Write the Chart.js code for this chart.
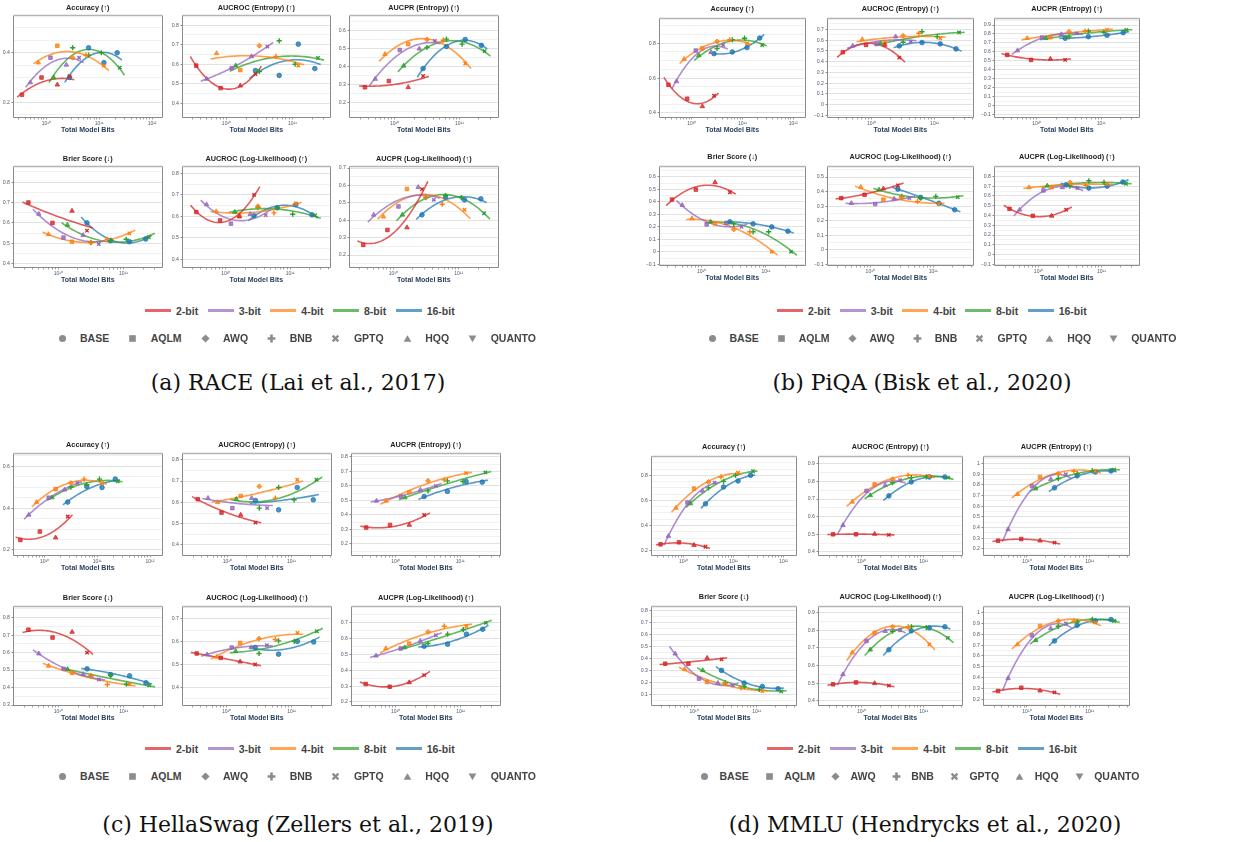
<!DOCTYPE html>
<html>
<head>
<meta charset="utf-8">
<title>Calibration vs. total model bits</title>
<script src="https://cdn.jsdelivr.net/npm/chart.js@4.4.1/dist/chart.umd.min.js"></script>
<style>
html,body{margin:0;padding:0;background:#fff;}
body{width:1246px;height:842px;position:relative;overflow:hidden;font-family:"Liberation Sans",Arial,sans-serif;}
canvas.sub{position:absolute;}
.legrow{position:absolute;display:flex;align-items:center;height:12px;font-weight:bold;font-size:10.5px;color:#444;white-space:nowrap;}
.sw{display:inline-block;width:26px;height:2.5px;}
.legrow svg{display:block;}
.cap{position:absolute;font-family:"DejaVu Serif",serif;white-space:nowrap;color:#111;line-height:1;}
</style>
</head>
<body>
<script>
// ================= DATA =================
const BIT_LABELS = ['2-bit', '3-bit', '4-bit', '8-bit', '16-bit'];
const METHOD_LABELS = ['BASE', 'AQLM', 'AWQ', 'BNB', 'GPTQ', 'HQQ', 'QUANTO'];
const METRIC_TITLES = ['Accuracy (↑)', 'AUCROC (Entropy) (↑)', 'AUCPR (Entropy) (↑)',
                       'Brier Score (↓)', 'AUCROC (Log-Likelihood) (↑)', 'AUCPR (Log-Likelihood) (↑)'];
const X_AXIS_TITLE = 'Total Model Bits';
const CAPTIONS = ['(a) RACE (Lai et al., 2017)', '(b) PiQA (Bisk et al., 2020)',
                  '(c) HellaSwag (Zellers et al., 2019)', '(d) MMLU (Hendrycks et al., 2020)'];

// Total model bits of each quantized model, per bit width
const X_2BIT  = [3.47e9, 8.13e9, 1.62e10, 2.75e10];
const X_3BIT  = [5.01e9, 1.20e10, 2.40e10, 4.17e10];
const X_4BIT  = [7.08e9, 1.62e10, 3.16e10, 5.62e10, 1.23e11];
const X_8BIT  = [1.38e10, 3.16e10, 6.31e10, 1.10e11, 2.45e11];
const X_16BIT = [2.75e10, 6.31e10, 1.23e11, 2.19e11];

// Quantization method of each point
const M_2BIT  = ['AQLM', 'AQLM', 'HQQ', 'GPTQ'];
const M_3BIT  = ['HQQ', 'AQLM', 'HQQ', 'GPTQ'];
const M_4BIT  = ['HQQ', 'AQLM', 'AWQ', 'BNB', 'GPTQ'];
const M_8BIT  = ['HQQ', 'BNB', 'BNB', 'BNB', 'GPTQ'];
const M_16BIT = ['BASE', 'BASE', 'BASE', 'BASE'];

// ---- RACE ---- rows: 2,3,4,8,16-bit
const RACE_ACCURACY = [
  [0.231, 0.300, 0.271, 0.305],
  [0.280, 0.380, 0.351, 0.380],
  [0.360, 0.428, 0.380, 0.390, 0.348],
  [0.300, 0.420, 0.390, 0.400, 0.340],
  [0.300, 0.420, 0.360, 0.400]];
const RACE_AUCROC_ENT = [
  [0.593, 0.478, 0.490, 0.550],
  [0.525, 0.580, 0.640, 0.690],
  [0.656, 0.570, 0.695, 0.640, 0.593],
  [0.593, 0.563, 0.720, 0.600, 0.632],
  [0.568, 0.543, 0.703, 0.578]];
const RACE_AUCPR_ENT = [
  [0.285, 0.320, 0.285, 0.348],
  [0.331, 0.493, 0.500, 0.544],
  [0.470, 0.526, 0.552, 0.548, 0.418],
  [0.405, 0.507, 0.554, 0.526, 0.487],
  [0.390, 0.513, 0.552, 0.519]];
const RACE_BRIER = [
  [0.700, 0.600, 0.659, 0.562],
  [0.644, 0.528, 0.540, 0.497],
  [0.544, 0.508, 0.503, 0.520, 0.549],
  [0.590, 0.505, 0.515, 0.520, 0.530],
  [0.600, 0.513, 0.508, 0.521]];
const RACE_AUCROC_LL = [
  [0.620, 0.581, 0.600, 0.700],
  [0.655, 0.566, 0.610, 0.606],
  [0.623, 0.600, 0.647, 0.616, 0.660],
  [0.620, 0.642, 0.640, 0.610, 0.605],
  [0.603, 0.640, 0.655, 0.607]];
const RACE_AUCPR_LL = [
  [0.258, 0.344, 0.358, 0.579],
  [0.431, 0.479, 0.590, 0.517],
  [0.420, 0.580, 0.535, 0.492, 0.460],
  [0.431, 0.530, 0.542, 0.530, 0.440],
  [0.431, 0.533, 0.517, 0.523]];

// ---- PiQA ----
const PIQA_ACCURACY = [
  [0.562, 0.482, 0.438, 0.499],
  [0.581, 0.758, 0.749, 0.790],
  [0.709, 0.770, 0.810, 0.820, 0.800],
  [0.730, 0.770, 0.820, 0.829, 0.790],
  [0.740, 0.750, 0.775, 0.830]];
const PIQA_AUCROC_ENT = [
  [0.487, 0.555, 0.555, 0.437],
  [0.546, 0.564, 0.632, 0.586],
  [0.607, 0.580, 0.640, 0.663, 0.617],
  [0.570, 0.580, 0.678, 0.632, 0.672],
  [0.546, 0.577, 0.565, 0.518]];
const PIQA_AUCPR_ENT = [
  [0.567, 0.511, 0.522, 0.511],
  [0.615, 0.760, 0.796, 0.807],
  [0.752, 0.763, 0.826, 0.833, 0.844],
  [0.752, 0.767, 0.833, 0.819, 0.844],
  [0.752, 0.770, 0.785, 0.815]];
const PIQA_BRIER = [
  [0.419, 0.499, 0.557, 0.478],
  [0.374, 0.220, 0.228, 0.200],
  [0.268, 0.228, 0.180, 0.161, 0.000],
  [0.241, 0.225, 0.161, 0.161, 0.000],
  [0.241, 0.225, 0.200, 0.166]];
const PIQA_AUCROC_LL = [
  [0.355, 0.378, 0.420, 0.443],
  [0.320, 0.314, 0.350, 0.355],
  [0.431, 0.344, 0.360, 0.332, 0.314],
  [0.413, 0.367, 0.355, 0.367, 0.362],
  [0.417, 0.360, 0.320, 0.275]];
const PIQA_AUCPR_LL = [
  [0.468, 0.396, 0.396, 0.458],
  [0.458, 0.656, 0.687, 0.680],
  [0.687, 0.690, 0.738, 0.708, 0.720],
  [0.704, 0.700, 0.755, 0.738, 0.725],
  [0.714, 0.680, 0.700, 0.742]];

// ---- HellaSwag ----
const HELLA_ACCURACY = [
  [0.248, 0.288, 0.259, 0.360],
  [0.368, 0.450, 0.488, 0.520],
  [0.429, 0.491, 0.520, 0.539, 0.520],
  [0.451, 0.501, 0.512, 0.539, 0.528],
  [0.429, 0.504, 0.499, 0.539]];
const HELLA_AUCROC_ENT = [
  [0.615, 0.552, 0.541, 0.505],
  [0.620, 0.573, 0.620, 0.573],
  [0.600, 0.630, 0.675, 0.620, 0.706],
  [0.615, 0.573, 0.670, 0.612, 0.706],
  [0.609, 0.565, 0.670, 0.612]];
const HELLA_AUCPR_ENT = [
  [0.313, 0.331, 0.331, 0.400],
  [0.497, 0.527, 0.573, 0.600],
  [0.497, 0.557, 0.635, 0.642, 0.688],
  [0.520, 0.566, 0.635, 0.631, 0.693],
  [0.527, 0.562, 0.631, 0.626]];
const HELLA_BRIER = [
  [0.731, 0.686, 0.718, 0.600],
  [0.594, 0.507, 0.476, 0.446],
  [0.524, 0.484, 0.467, 0.417, 0.419],
  [0.505, 0.467, 0.470, 0.419, 0.413],
  [0.507, 0.474, 0.467, 0.427]];
const HELLA_AUCROC_LL = [
  [0.548, 0.529, 0.512, 0.500],
  [0.543, 0.574, 0.574, 0.584],
  [0.533, 0.594, 0.613, 0.609, 0.638],
  [0.558, 0.548, 0.603, 0.601, 0.645],
  [0.574, 0.545, 0.601, 0.598]];
const HELLA_AUCPR_LL = [
  [0.313, 0.296, 0.323, 0.369],
  [0.491, 0.537, 0.583, 0.620],
  [0.537, 0.568, 0.641, 0.677, 0.677],
  [0.543, 0.568, 0.627, 0.656, 0.698],
  [0.551, 0.564, 0.627, 0.658]];

// ---- MMLU ----
const MMLU_ACCURACY = [
  [0.250, 0.266, 0.244, 0.231],
  [0.316, 0.583, 0.676, 0.742],
  [0.540, 0.694, 0.747, 0.787, 0.820],
  [0.575, 0.700, 0.752, 0.800, 0.832],
  [0.573, 0.707, 0.755, 0.800]];
const MMLU_AUCROC_ENT = [
  [0.500, 0.500, 0.502, 0.497],
  [0.552, 0.746, 0.778, 0.806],
  [0.684, 0.783, 0.812, 0.834, 0.830],
  [0.721, 0.793, 0.821, 0.825, 0.821],
  [0.718, 0.797, 0.825, 0.825]];
const MMLU_AUCPR_ENT = [
  [0.277, 0.293, 0.277, 0.259],
  [0.383, 0.790, 0.854, 0.900],
  [0.713, 0.875, 0.906, 0.928, 0.931],
  [0.766, 0.860, 0.906, 0.931, 0.944],
  [0.773, 0.885, 0.922, 0.931]];
const MMLU_BRIER = [
  [0.360, 0.360, 0.407, 0.396],
  [0.443, 0.235, 0.198, 0.179],
  [0.313, 0.207, 0.193, 0.157, 0.131],
  [0.304, 0.201, 0.170, 0.145, 0.129],
  [0.304, 0.198, 0.170, 0.151]];
const MMLU_AUCROC_LL = [
  [0.494, 0.505, 0.500, 0.487],
  [0.550, 0.740, 0.795, 0.800],
  [0.674, 0.785, 0.820, 0.820, 0.720],
  [0.690, 0.795, 0.820, 0.815, 0.757],
  [0.690, 0.797, 0.814, 0.820]];
const MMLU_AUCPR_LL = [
  [0.276, 0.307, 0.279, 0.264],
  [0.393, 0.790, 0.853, 0.900],
  [0.706, 0.877, 0.923, 0.923, 0.908],
  [0.745, 0.874, 0.914, 0.939, 0.923],
  [0.739, 0.883, 0.923, 0.936]];

// ================= STYLE / LAYOUT =================
const FONT = '"Liberation Sans", Arial, sans-serif';
const BIT_COLORS = ['#d62728', '#9467bd', '#ff7f0e', '#2ca02c', '#1f77b4'];
const MARKER_STYLE = {BASE:'circle', AQLM:'rect', AWQ:'rectRot', BNB:'cross', GPTQ:'crossRot', HQQ:'triangle', QUANTO:'triangle'};
const MARKER_RADIUS = {BASE:2.3, AQLM:2.5, AWQ:2.5, BNB:2.6, GPTQ:2.4, HQQ:2.6, QUANTO:2.6};
const BIT_X = [X_2BIT, X_3BIT, X_4BIT, X_8BIT, X_16BIT];
const BIT_M = [M_2BIT, M_3BIT, M_4BIT, M_8BIT, M_16BIT];

const PANELS = [
  { caption: CAPTIONS[0],
    metrics: [RACE_ACCURACY, RACE_AUCROC_ENT, RACE_AUCPR_ENT, RACE_BRIER, RACE_AUCROC_LL, RACE_AUCPR_LL],
    cols: [[14,163],[183,331],[350,499]], rows: [[16,117],[167,267]], titleGap: 8.5,
    xRange: [[9.39,12.18],[9.34,11.565],[9.31,11.59],[9.32,11.584],[9.333,11.615],[9.337,11.597]],
    yRange: [[0.141,0.548],[0.33,0.847],[0.119,0.683],[0.384,0.874],[0.364,0.83],[0.131,0.706]],
    yStep: [0.2,0.1,0.1,0.1,0.1,0.1],
    leg1: {x: 145, y: 310.7, gap: 9.5}, leg2: {x: 57.5, y: 338.3, mkGap: 13.5, gap: 19},
    capX: 298, capY: 383 },
  { caption: CAPTIONS[1],
    metrics: [PIQA_ACCURACY, PIQA_AUCROC_ENT, PIQA_AUCPR_ENT, PIQA_BRIER, PIQA_AUCROC_LL, PIQA_AUCPR_LL],
    cols: [[660,806],[828,974],[995,1140]], rows: [[19,117],[167,265]], titleGap: 10.5,
    xRange: [[9.374,12.226],[9.305,11.605],[9.35,11.58],[9.354,11.6],[9.33,11.625],[9.31,11.59]],
    yRange: [[0.377,0.939],[-0.115,0.796],[-0.126,0.967],[-0.105,0.68],[-0.105,0.569],[-0.107,0.896]],
    yStep: [0.2,0.1,0.1,0.1,0.1,0.1],
    leg1: {x: 777, y: 310.7, gap: 9.5}, leg2: {x: 707.5, y: 338.3, mkGap: 13, gap: 18},
    capX: 922, capY: 383 },
  { caption: CAPTIONS[2],
    metrics: [HELLA_ACCURACY, HELLA_AUCROC_ENT, HELLA_AUCPR_ENT, HELLA_BRIER, HELLA_AUCROC_LL, HELLA_AUCPR_LL],
    cols: [[14,163],[183,332],[352,501]], rows: [[454,555],[607,705]], titleGap: 8.6,
    xRange: [[9.42,12.22],[9.31,11.61],[9.32,11.61],[9.32,11.58],[9.33,11.6],[9.33,11.6]],
    yRange: [[0.176,0.659],[0.353,0.827],[0.124,0.82],[0.30,0.861],[0.323,0.751],[0.181,0.798]],
    yStep: [0.2,0.1,0.1,0.1,0.1,0.1],
    leg1: {x: 145, y: 748.7, gap: 9.5}, leg2: {x: 57.5, y: 776.3, mkGap: 13.5, gap: 19},
    capX: 298, capY: 825 },
  { caption: CAPTIONS[3],
    metrics: [MMLU_ACCURACY, MMLU_AUCROC_ENT, MMLU_AUCPR_ENT, MMLU_BRIER, MMLU_AUCROC_LL, MMLU_AUCPR_LL],
    cols: [[652,797],[819,963],[984,1130]], rows: [[457,555],[607,705]], titleGap: 10,
    xRange: [[9.37,12.24],[9.314,11.61],[9.316,11.62],[9.33,11.62],[9.314,11.61],[9.316,11.62]],
    yRange: [[0.165,0.946],[0.383,0.938],[0.143,1.062],[0.015,0.833],[0.377,0.932],[0.147,1.052]],
    yStep: [0.2,0.1,0.1,0.1,0.1,0.1],
    leg1: {x: 767, y: 748.7, gap: 9.5}, leg2: {x: 700, y: 776.3, mkGap: 10.5, gap: 16},
    capX: 925, capY: 825 }
];

// ================= HELPERS =================
function rgba(hex, a) { const n = parseInt(hex.slice(1), 16); return `rgba(${n>>16},${(n>>8)&255},${n&255},${a})`; }
const SUP = {'0':'⁰','1':'¹','2':'²','3':'³','4':'⁴','5':'⁵','6':'⁶','7':'⁷','8':'⁸','9':'⁹','-':'⁻'};
function isPow10(v) { const l = Math.log10(v); return Math.abs(l - Math.round(l)) < 1e-6; }
function supLabel(v) { return '10' + String(Math.round(Math.log10(v))).split('').map(c => SUP[c]).join(''); }
function isMajor(v, step) { return Math.abs(v / step - Math.round(v / step)) < 1e-6; }
function fmtY(v) { const r = Math.round(v * 10) / 10; if (Math.abs(r) < 1e-9) return '0'; return (r < 0 ? '−' : '') + String(Math.abs(r)); }

// least-squares quadratic trend in log10(x)
function det3(m) {
  return m[0][0]*(m[1][1]*m[2][2]-m[1][2]*m[2][1]) - m[0][1]*(m[1][0]*m[2][2]-m[1][2]*m[2][0]) + m[0][2]*(m[1][0]*m[2][1]-m[1][1]*m[2][0]);
}
function quadFit(xs, ys) {
  const u = xs.map(Math.log10), n = u.length;
  const mu = u.reduce((a, b) => a + b, 0) / n;
  const S = [0,0,0,0,0], T = [0,0,0];
  for (let i = 0; i < n; i++) {
    const v = u[i] - mu; let p = 1;
    for (let k = 0; k < 5; k++) { S[k] += p; if (k < 3) T[k] += ys[i] * p; p *= v; }
  }
  const A = [[S[0],S[1],S[2]],[S[1],S[2],S[3]],[S[2],S[3],S[4]]];
  const D = det3(A);
  const c = [0,1,2].map(j => det3(A.map((row, i) => row.map((val, k) => k === j ? T[i] : val))) / D);
  return {mu, c, umin: Math.min(...u), umax: Math.max(...u)};
}
function trendPoints(xs, ys) {
  const f = quadFit(xs, ys); const pts = []; const N = 48;
  const a = f.umin - 0.09, b = f.umax + 0.09;
  for (let i = 0; i <= N; i++) {
    const u = a + (b - a) * i / N, v = u - f.mu;
    pts.push({x: Math.pow(10, u), y: f.c[0] + f.c[1]*v + f.c[2]*v*v});
  }
  return pts;
}

const framePlugin = {
  id: 'frame',
  beforeDatasetsDraw(chart) {
    const {ctx, chartArea: a} = chart;
    ctx.save();
    const l = Math.round(a.left) - 0.5, t = Math.round(a.top) - 0.5, r = Math.round(a.right) + 0.5, b = Math.round(a.bottom) + 0.5;
    ctx.lineWidth = 1; ctx.strokeStyle = '#8a8a8a';
    ctx.beginPath(); ctx.moveTo(l, t); ctx.lineTo(l, b); ctx.lineTo(r, b); ctx.lineTo(r, t); ctx.stroke();
    ctx.strokeStyle = '#b4b4b4'; ctx.lineWidth = 1.5;
    ctx.beginPath(); ctx.moveTo(l, t); ctx.lineTo(r, t); ctx.stroke();
    ctx.restore();
  }
};
const subTitlePlugin = {
  id: 'subTitle',
  afterDraw(chart, args, opts) {
    const {ctx, chartArea: a} = chart;
    ctx.save();
    ctx.font = `bold ${opts.size}px ${FONT}`; ctx.fillStyle = opts.color;
    ctx.textAlign = 'center'; ctx.textBaseline = 'middle';
    ctx.fillText(opts.text, (a.left + a.right) / 2, a.top - opts.gap);
    ctx.restore();
  }
};

// ================= CHARTS =================
const YL = 30, TOP = 14, XB = 20, RP = 4;
function makeChart(panel, m) {
  const r = Math.floor(m / 3), c = m % 3;
  const [bl, br] = panel.cols[c], [bt, bb] = panel.rows[r];
  const W = br - bl + YL + RP, H = bb - bt + TOP + XB;
  const cv = document.createElement('canvas');
  cv.className = 'sub'; cv.width = W; cv.height = H;
  cv.style.left = (bl - YL) + 'px'; cv.style.top = (bt - TOP) + 'px';
  cv.style.width = W + 'px'; cv.style.height = H + 'px';
  document.body.appendChild(cv);

  const yr = panel.yRange[m], xr = panel.xRange[m], step = panel.yStep[m];
  const datasets = [];
  BIT_X.forEach((xs, b) => {
    const ys = panel.metrics[m][b];
    const ms = BIT_M[b];
    datasets.push({
      label: BIT_LABELS[b], data: xs.map((x, i) => ({x, y: ys[i]})),
      pointStyle: ms.map(k => MARKER_STYLE[k]), pointRotation: ms.map(k => k === 'QUANTO' ? 180 : 0),
      pointRadius: ms.map(k => MARKER_RADIUS[k]), borderWidth: ms.map(k => (k === 'BNB' || k === 'GPTQ') ? 1.4 : 0.8),
      backgroundColor: rgba(BIT_COLORS[b], 0.8),
      borderColor: BIT_COLORS[b], showLine: false, order: 1
    });
    datasets.push({
      label: BIT_LABELS[b] + ' trend', data: trendPoints(xs, ys), showLine: true,
      borderColor: rgba(BIT_COLORS[b], 0.75), borderWidth: 1.6, pointRadius: 0, fill: false, tension: 0, order: 2
    });
  });

  new Chart(cv, {
    type: 'scatter',
    data: {datasets},
    plugins: [framePlugin, subTitlePlugin],
    options: {
      responsive: false, animation: false, devicePixelRatio: 1, events: [],
      layout: {padding: {top: TOP, right: RP, left: 0, bottom: 0}},
      plugins: {
        legend: {display: false}, tooltip: {enabled: false}, title: {display: false},
        subTitle: {text: METRIC_TITLES[m], size: 7.3, color: '#1e1e1e', gap: panel.titleGap}
      },
      scales: {
        x: {
          type: 'logarithmic', min: Math.pow(10, xr[0]), max: Math.pow(10, xr[1]),
          afterBuildTicks: s => {
            const t = [];
            for (let e = 9; e <= 12; e++) for (let k = 1; k <= 9; k++) {
              const v = k * Math.pow(10, e);
              if (v >= s.min && v <= s.max) t.push({value: v, major: false});
            }
            s.ticks = t;
          },
          afterFit: s => { s.height = XB; },
          ticks: {autoSkip: false, maxRotation: 0, minRotation: 0, padding: 1, font: {family: FONT, size: 5}, color: '#4d5b70',
                  callback: v => isPow10(v) ? supLabel(v) : ''},
          grid: {drawOnChartArea: false, drawTicks: true, tickLength: 2.5, tickColor: '#8a8a8a', lineWidth: 0.8},
          border: {display: false},
          title: {display: true, text: X_AXIS_TITLE, color: '#2a3f5f', font: {family: FONT, size: 7, weight: 'bold', lineHeight: 1.2},
                  padding: {top: 0, bottom: 3}}
        },
        y: {
          type: 'linear', min: yr[0], max: yr[1],
          afterBuildTicks: s => {
            const t = [];
            for (let k = Math.ceil(yr[0] / 0.05 - 1e-9); k * 0.05 <= yr[1] + 1e-9; k++) t.push({value: Math.round(k * 5) / 100});
            s.ticks = t;
          },
          afterFit: s => { s.width = YL; },
          ticks: {autoSkip: false, padding: 1.5, font: {family: FONT, size: 5.2}, color: '#4d5b70',
                  callback: v => isMajor(v, step) ? fmtY(v) : ''},
          grid: {
            color: ctx => isMajor(ctx.tick.value, step) ? '#e2e2e2' : '#f1f1f1',
            lineWidth: 1, drawTicks: true, tickLength: 2.5,
            tickColor: ctx => isMajor(ctx.tick.value, step) ? '#8a8a8a' : 'rgba(0,0,0,0)'
          },
          border: {display: false}
        }
      }
    }
  });
}

// ================= LEGENDS & CAPTIONS =================
function markerSVG(m) {
  const c = '#8c8c8c'; let inner = '';
  switch (m) {
    case 'BASE':   inner = `<circle cx="4.5" cy="4.5" r="3.5" fill="${c}"/>`; break;
    case 'AQLM':   inner = `<rect x="1.2" y="1.2" width="6.6" height="6.6" fill="${c}"/>`; break;
    case 'AWQ':    inner = `<polygon points="4.5,0.4 8.6,4.5 4.5,8.6 0.4,4.5" fill="${c}"/>`; break;
    case 'BNB':    inner = `<path d="M4.5 0.6V8.4M0.6 4.5H8.4" stroke="${c}" stroke-width="2.6"/>`; break;
    case 'GPTQ':   inner = `<path d="M1.6 1.6L7.4 7.4M7.4 1.6L1.6 7.4" stroke="${c}" stroke-width="2.3"/>`; break;
    case 'HQQ':    inner = `<polygon points="4.5,1.2 8.4,7.8 0.6,7.8" fill="${c}"/>`; break;
    case 'QUANTO': inner = `<polygon points="0.6,1.6 8.4,1.6 4.5,8.2" fill="${c}"/>`; break;
  }
  return `<svg width="9" height="9" viewBox="0 0 9 9">${inner}</svg>`;
}
function buildLegends(p) {
  const r1 = document.createElement('div');
  r1.className = 'legrow';
  r1.style.left = p.leg1.x + 'px'; r1.style.top = (p.leg1.y - 6) + 'px';
  BIT_LABELS.forEach((lab, i) => {
    const sw = document.createElement('span'); sw.className = 'sw'; sw.style.background = rgba(BIT_COLORS[i], 0.7);
    const tx = document.createElement('span'); tx.textContent = lab; tx.style.marginLeft = '5px'; tx.style.marginRight = p.leg1.gap + 'px';
    r1.append(sw, tx);
  });
  document.body.appendChild(r1);

  const r2 = document.createElement('div');
  r2.className = 'legrow';
  r2.style.left = p.leg2.x + 'px'; r2.style.top = (p.leg2.y - 6) + 'px';
  METHOD_LABELS.forEach(lab => {
    const mk = document.createElement('span'); mk.innerHTML = markerSVG(lab);
    const tx = document.createElement('span'); tx.textContent = lab;
    tx.style.marginLeft = p.leg2.mkGap + 'px'; tx.style.marginRight = p.leg2.gap + 'px';
    r2.append(mk, tx);
  });
  document.body.appendChild(r2);
}
function buildCaptions() {
  const els = PANELS.map(p => {
    const d = document.createElement('div'); d.className = 'cap'; d.textContent = p.caption;
    d.style.fontSize = '18px'; document.body.appendChild(d); return d;
  });
  const w0 = els[0].getBoundingClientRect().width;
  const fs = Math.max(14, Math.min(22, 18 * 300 / w0));
  els.forEach((d, i) => {
    d.style.fontSize = fs + 'px';
    const bb = d.getBoundingClientRect();
    d.style.left = (PANELS[i].capX - bb.width / 2) + 'px';
    d.style.top = (PANELS[i].capY - bb.height / 2) + 'px';
  });
}

PANELS.forEach(p => {
  for (let m = 0; m < 6; m++) makeChart(p, m);
  buildLegends(p);
});
buildCaptions();
</script>
</body>
</html>
